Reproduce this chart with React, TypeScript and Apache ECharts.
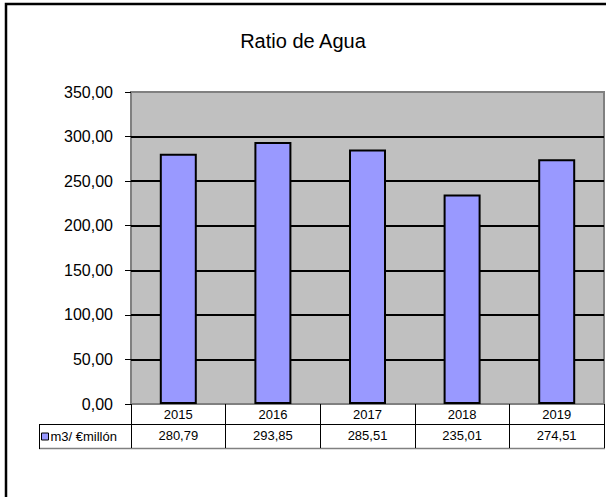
import React, { useEffect, useRef } from "react";
import * as echarts from "echarts";

const title = "Ratio de Agua";
const seriesName = "m3/ €millón";
const years = ["2015", "2016", "2017", "2018", "2019"];
const values = [280.79, 293.85, 285.51, 235.01, 274.51];
const yMin = 0;
const yMax = 350;
const yStep = 50;

const fmt = (v: number) => v.toFixed(2).replace(".", ",");
const FONT = "'Liberation Sans', Arial, sans-serif";

export default function App() {
  const ref = useRef<HTMLDivElement>(null);
  useEffect(() => {
    if (!ref.current) return;
    const chart = echarts.init(ref.current, undefined, { renderer: "svg" });
    const splitColors = [];
    for (let v = yMin; v <= yMax; v += yStep) {
      splitColors.push(v === yMin || v === yMax ? "#808080" : "#000000");
    }
    chart.setOption({
      animation: false,
      backgroundColor: "#ffffff",
      textStyle: { fontFamily: FONT },
      title: {
        text: title,
        left: "center",
        top: 31,
        padding: 0,
        textStyle: { fontSize: 20, fontWeight: "normal", color: "#000", fontFamily: FONT },
      },
      legend: {
        data: [seriesName],
        left: 41,
        top: 430,
        padding: 0,
        icon: "rect",
        itemWidth: 7,
        itemHeight: 7,
        itemStyle: { borderWidth: 1, borderColor: "#000" },
        textStyle: { fontSize: 13, color: "#000", fontFamily: FONT, padding: [0, 0, 0, -3] },
      },
      grid: {
        left: 131,
        top: 92,
        right: 2,
        height: 312,
        show: true,
        backgroundColor: "#C0C0C0",
        borderColor: "#808080",
        borderWidth: 2,
        containLabel: false,
      },
      xAxis: [
        {
          type: "category",
          data: years,
          position: "bottom",
          axisLine: { show: false },
          axisTick: { show: true, length: 44, interval: 0, lineStyle: { color: "#000", width: 1 } },
          axisLabel: { fontSize: 13, color: "#000", margin: 4, interval: 0, fontFamily: FONT },
          splitLine: { show: false },
        },
        {
          type: "category",
          data: years,
          position: "bottom",
          offset: 20,
          axisLine: { show: false },
          axisTick: { show: false },
          axisLabel: {
            fontSize: 13,
            color: "#000",
            margin: 5,
            interval: 0,
            fontFamily: FONT,
            formatter: (_v: string, i: number) => fmt(values[i]),
          },
        },
      ],
      yAxis: {
        type: "value",
        min: yMin,
        max: yMax,
        interval: yStep,
        axisLine: { show: false },
        axisTick: { show: true, length: 6, lineStyle: { color: "#000", width: 1 } },
        axisLabel: { fontSize: 16, color: "#000", margin: 18, formatter: (v: number) => fmt(v), fontFamily: FONT },
        splitLine: { show: true, lineStyle: { color: splitColors, width: 2 } },
      },
      series: [
        {
          name: seriesName,
          type: "bar",
          data: values,
          barWidth: 37,
          itemStyle: { color: "#9999FF", borderColor: "#000", borderWidth: 2 },
        },
      ],
      graphic: [
        {
          type: "rect",
          shape: { x: 6, y: 4, width: 700, height: 600 },
          style: { fill: "none", stroke: "#000", lineWidth: 2.5 },
          z: 100,
        },
        {
          type: "line",
          shape: { x1: 39, y1: 424.5, x2: 604, y2: 424.5 },
          style: { stroke: "#000", lineWidth: 1 },
        },
        {
          type: "line",
          shape: { x1: 39, y1: 448.5, x2: 605, y2: 448.5 },
          style: { stroke: "#808080", lineWidth: 1.5 },
        },
        {
          type: "line",
          shape: { x1: 39.5, y1: 424, x2: 39.5, y2: 449 },
          style: { stroke: "#000", lineWidth: 1 },
        },
      ],
    });
    return () => chart.dispose();
  }, []);
  return (
    <div
      ref={ref}
      style={{ position: "fixed", left: 0, top: 0, width: 606, height: 497, background: "#fff" }}
    />
  );
}
